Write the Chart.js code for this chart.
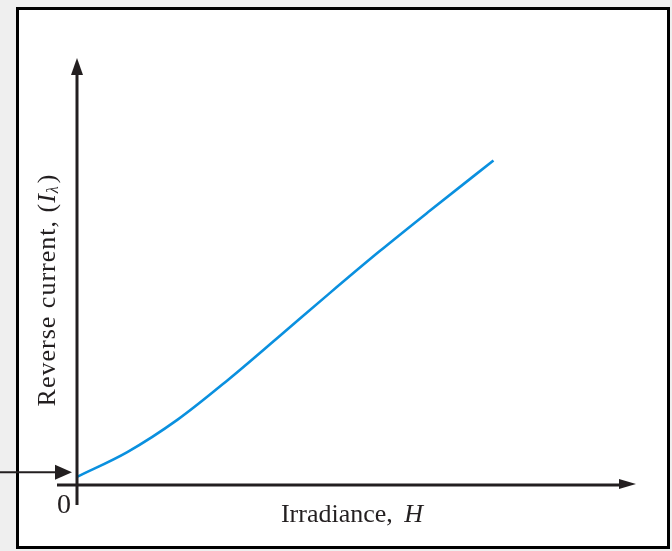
<!DOCTYPE html>
<html>
<head>
<meta charset="utf-8">
<script src="https://cdn.jsdelivr.net/npm/chart.js@4.4.1/dist/chart.umd.min.js"></script>
<style>
  html, body { margin: 0; padding: 0; background: #efefef; }
  #wrap { width: 672px; height: 551px; }
</style>
</head>
<body>
<div id="wrap"><canvas id="c" width="672" height="551"></canvas></div>
<script>
// Irradiance H (arbitrary units) and reverse current I_lambda (arbitrary units)
const irradiance = [0, 0.9, 1.8, 2.7, 3.6, 4.5, 5.4, 6.3, 7.45];
const reverseCurrent = [0.19, 0.77, 1.53, 2.46, 3.46, 4.47, 5.46, 6.41, 7.60];
const darkCurrentLevel = 0.3;
const xLabel = 'Irradiance, ';
const xSymbol = 'H';
const yLabel = 'Reverse current, (';
const ySymbol = 'I';
const ySub = 'λ';
const originLabel = '0';

const INK = '#231f20';
const SERIF = '"Liberation Serif", "DejaVu Serif", serif';

function arrowHead(ctx, tipX, tipY, dir, len, half) {
  ctx.beginPath();
  if (dir === 'up') { ctx.moveTo(tipX, tipY); ctx.lineTo(tipX - half, tipY + len); ctx.lineTo(tipX + half, tipY + len); }
  else { ctx.moveTo(tipX, tipY); ctx.lineTo(tipX - len, tipY - half); ctx.lineTo(tipX - len, tipY + half); }
  ctx.closePath();
  ctx.fill();
}

const decor = {
  id: 'decor',
  beforeDraw(chart) {
    const ctx = chart.ctx;
    ctx.save();
    ctx.fillStyle = '#efefef';
    ctx.fillRect(0, 0, chart.width, chart.height);
    ctx.fillStyle = '#ffffff';
    ctx.fillRect(16, 7, 654, 542);
    ctx.strokeStyle = '#000';
    ctx.lineWidth = 3;
    ctx.strokeRect(17.5, 8.5, 651, 539);
    ctx.restore();
  },
  afterDatasetsDraw(chart) {
    const ctx = chart.ctx;
    const xs = chart.scales.x, ys = chart.scales.y;
    const x0 = xs.getPixelForValue(0), y0 = ys.getPixelForValue(0);
    const area = chart.chartArea;
    ctx.save();
    ctx.strokeStyle = INK; ctx.fillStyle = INK;
    ctx.lineWidth = 3;
    // y axis
    ctx.beginPath(); ctx.moveTo(x0, y0 + 20); ctx.lineTo(x0, area.top + 14); ctx.stroke();
    arrowHead(ctx, x0, area.top, 'up', 17, 6);
    // x axis
    ctx.beginPath(); ctx.moveTo(x0 - 20, y0); ctx.lineTo(area.right - 14, y0); ctx.stroke();
    arrowHead(ctx, area.right, y0 - 1, 'right', 17, 5);
    // dark-current arrow
    const yd = ys.getPixelForValue(darkCurrentLevel);
    ctx.lineWidth = 2;
    ctx.beginPath(); ctx.moveTo(0, yd); ctx.lineTo(x0 - 18, yd); ctx.stroke();
    arrowHead(ctx, x0 - 5, yd, 'right', 17, 7.5);
    // texts
    ctx.textBaseline = 'middle';
    ctx.font = '28px ' + SERIF;
    ctx.textAlign = 'center';
    ctx.fillText(originLabel, x0 - 13, y0 + 21);
    // x label
    const fs = 26;
    ctx.font = fs + 'px ' + SERIF;
    const w1 = ctx.measureText(xLabel).width;
    ctx.font = 'italic ' + fs + 'px ' + SERIF;
    const w2 = ctx.measureText(xSymbol).width;
    const cx = 352, cy = 515;
    let sx = cx - (w1 + w2 + 5) / 2;
    ctx.textAlign = 'left';
    ctx.font = fs + 'px ' + SERIF;
    ctx.fillText(xLabel, sx, cy);
    ctx.font = 'italic ' + fs + 'px ' + SERIF;
    ctx.fillText(xSymbol, sx + w1 + 5, cy);
    // y label rotated
    ctx.save();
    ctx.translate(48, 290);
    ctx.rotate(-Math.PI / 2);
    ctx.letterSpacing = '1px';
    ctx.font = fs + 'px ' + SERIF;
    const a = ctx.measureText(yLabel).width;
    ctx.font = 'italic ' + fs + 'px ' + SERIF;
    const b = ctx.measureText(ySymbol).width;
    ctx.font = 'italic 16px ' + SERIF;
    const c = ctx.measureText(ySub).width;
    ctx.font = fs + 'px ' + SERIF;
    const d = ctx.measureText(')').width;
    let px = -(a + b + c + d + 2) / 2;
    ctx.fillText(yLabel, px, 0); px += a;
    ctx.font = 'italic ' + fs + 'px ' + SERIF;
    ctx.fillText(ySymbol, px, 0); px += b;
    ctx.font = 'italic 16px ' + SERIF;
    ctx.fillText(ySub, px, 6); px += c + 2;
    ctx.font = fs + 'px ' + SERIF;
    ctx.fillText(')', px, 0);
    ctx.restore();
    ctx.restore();
  }
};

new Chart(document.getElementById('c'), {
  type: 'line',
  data: {
    datasets: [{
      data: irradiance.map((h, i) => ({ x: h, y: reverseCurrent[i] })),
      borderColor: '#0a90df',
      borderWidth: 2.6,
      pointRadius: 0,
      fill: false,
      cubicInterpolationMode: 'monotone'
    }]
  },
  options: {
    responsive: false,
    animation: false,
    layout: { padding: { left: 77, right: 36, top: 58, bottom: 66 } },
    plugins: { legend: { display: false }, tooltip: { enabled: false } },
    scales: {
      x: { type: 'linear', min: 0, max: 10, display: false },
      y: { type: 'linear', min: 0, max: 10, display: false }
    }
  },
  plugins: [decor]
});
</script>
</body>
</html>
